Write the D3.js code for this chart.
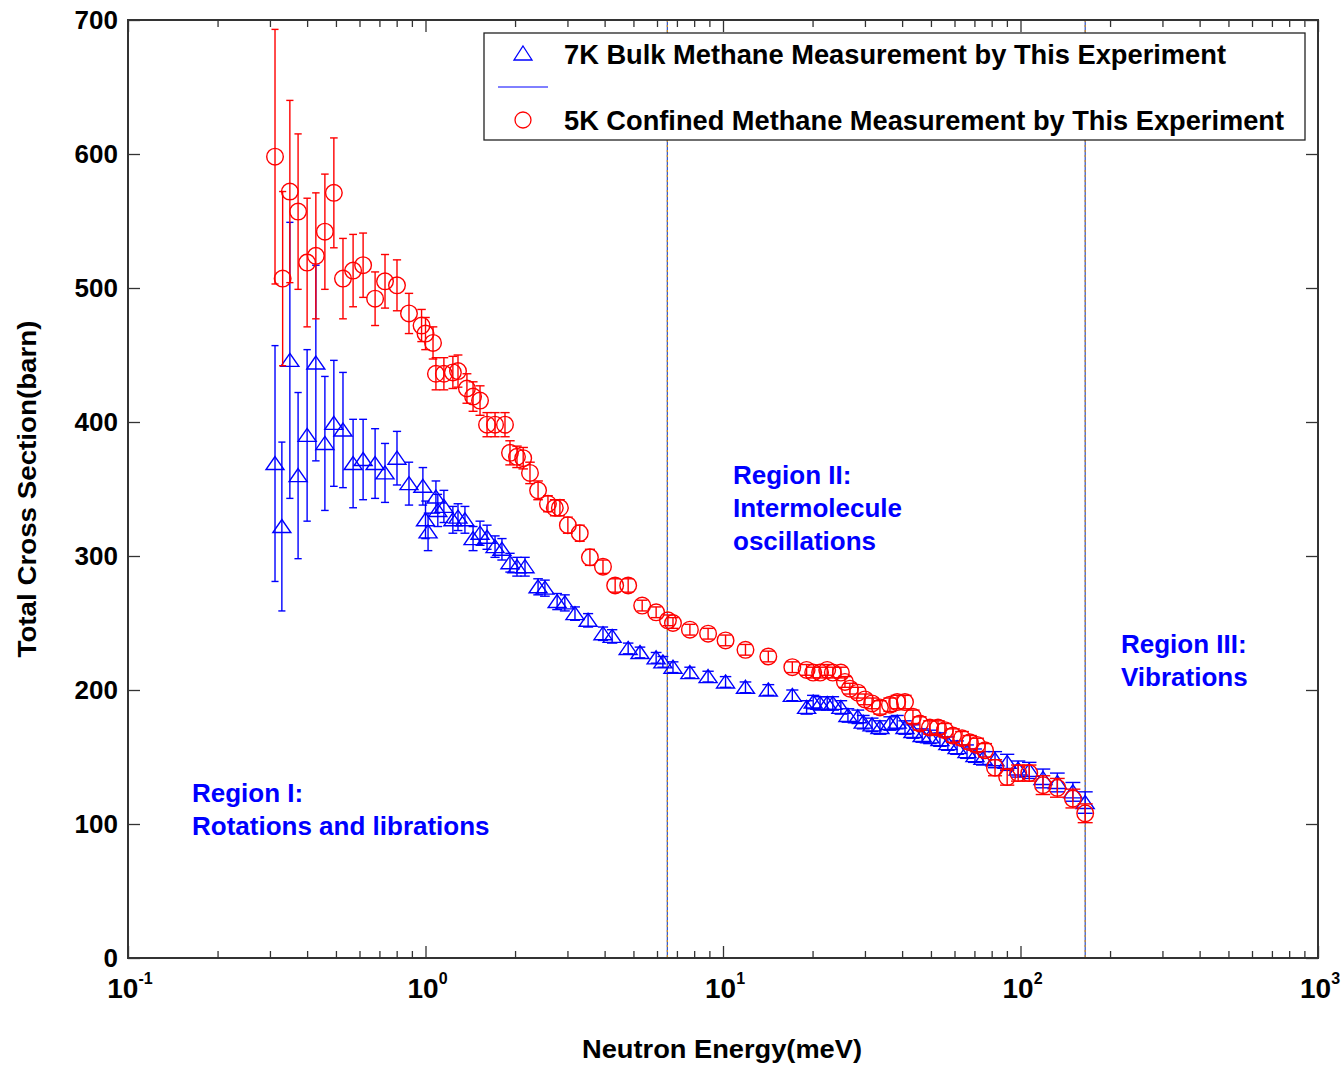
<!DOCTYPE html>
<html>
<head>
<meta charset="utf-8">
<script src="https://cdn.jsdelivr.net/npm/d3@7"></script>
<style>
  body { margin:0; background:#fff; }
  svg text { font-family: "Liberation Sans", Arial, sans-serif; font-weight: bold; }
</style>
</head>
<body>
<svg id="chart"></svg>
<script>
// 5K confined methane (red circles): energy meV, cross section barn, error
let redE = [0.312,0.331,0.350,0.373,0.400,0.428,0.459,0.492,0.528,0.571,0.617,0.677,0.731,0.802,0.880,
  0.97,1.00,1.06,1.084,1.153,1.236,1.286,1.378,1.445,1.525,1.61,1.713,1.85,1.923,2.03,2.13,2.245,2.39,
  2.58,2.72,2.83,3.01,3.30,3.57,3.95,4.34,4.80,5.35,5.96,6.53,6.79,7.74,8.91,10.2,11.9,14.2,17.1,19.1,
  20.1,21.2,22.4,23.4,24.9,25.7,26.7,28.4,30.0,31.7,33.7,36.4,38.5,40.9,43.5,45.9,49.6,52.8,55.7,59.3,
  63.6,67.6,71.4,76.0,82.1,90.2,98.2,107,119,133,150,165];
let redSigma = [598,507,572,557,519,524,542,571,507,513,517,492,505,502,481,
  472,466,459,436,436,437,438,425,419,416,398,398,398,377,374,373,362,349,
  339,336,336,323,317,299,292,278,278,263,258,252,250,245,242,237,230,225,217,215,
  213,213,215,213,213,206,201,198,193,190,187,189,191,191,180,175,172,172,170,166,
  164,161,159,155,142,135,138,138,129,127,119,108];
let redErr = [95,65,68,58,48,47,43,41,30,27,24,20,20,19,15,
  12,12,12,12,12,12,12,11,11,11,9,9,9,9,8,8,8,7,
  6,6,6,6,6,6,5,5,5,4,4,4,4,4,4,4,4,4,4,4,
  4,4,4,4,4,4,4,4,4,4,5,5,5,5,5,5,5,5,5,5,
  5,5,5,5,6,6,6,6,7,7,7,7];

// 7K bulk methane (blue triangles)
let blueE = [0.312,0.329,0.350,0.373,0.400,0.428,0.459,0.492,0.528,0.571,0.617,0.677,0.731,0.802,0.880,
  0.98,1.00,1.02,1.084,1.10,1.153,1.236,1.286,1.357,1.445,1.525,1.61,1.713,1.807,1.923,2.03,2.16,2.39,
  2.52,2.77,2.94,3.18,3.52,3.95,4.24,4.80,5.26,5.96,6.28,6.79,7.74,8.91,10.2,11.9,14.2,17.1,19.1,20.1,
  21.2,22.4,23.4,24.9,26.3,28.4,29.6,31.7,33.7,36.4,38.5,40.9,43.5,46.7,49.6,53.6,57.0,61.2,66.1,70.3,
  74.8,82.1,90.2,98.2,107,119,133,150,165];
let blueSigma = [369,322,446,360,390,444,384,399,394,369,372,369,362,373,354,
  352,327,318,344,334,337,327,329,327,313,317,314,307,305,295,292,292,277,
  276,266,265,257,252,242,240,231,228,224,221,217,213,210,206,202,200,196,187,191,
  190,190,190,187,181,180,176,174,172,175,176,172,169,166,165,163,160,157,154,151,
  149,148,146,141,140,134,131,124,116];
let blueErr = [88,63,103,62,64,73,50,47,43,33,30,26,22,20,16,
  14,14,14,12,12,12,10,10,10,9,9,9,8,8,7,7,7,6,
  6,6,6,5,5,5,5,4,4,4,4,4,4,4,4,4,4,4,5,5,
  5,5,5,5,5,5,5,5,5,5,5,5,5,5,5,5,5,5,5,5,
  5,6,6,6,6,7,7,7,8];

let xMajor = [0.1,1,10,100,1000];
let xExp = ["-1","0","1","2","3"];
let yTicks = [0,100,200,300,400,500,600,700];
let regionLines = [6.5,165];
let legendLabels = ["7K Bulk Methane Measurement by This Experiment",
                    "5K Confined Methane Measurement by This Experiment"];
let regionText = [
  {E:0.53, v:[ "Region I:", "Rotations and librations"], top:802},
  {E:7.8, v:["Region II:", "Intermolecule", "oscillations"], top:484},
  {E:167, v:["Region III:", "Vibrations"], top:653}
];

let W = 1344, H = 1066;
let plot = {left:128, right:1318, top:20, bottom:958};
let blue = "#0000ff", red = "#ff0000";

let svg = d3.select("#chart").attr("width", W).attr("height", H);

let x = d3.scaleLog().domain([0.1,1000]).range([plot.left, plot.right]);
let y = d3.scaleLinear().domain([0,700]).range([plot.bottom, plot.top]);

// minor ticks on log axis
let xMinor = [];
for (let d = 0.1; d < 1000; d *= 10) {
  for (let k = 2; k <= 9; k++) xMinor.push(+(d*k).toPrecision(3));
}

// region boundary lines (two dashed colours over each other)
regionLines.forEach(function(v){
  svg.append("line").attr("x1", x(v)).attr("x2", x(v))
     .attr("y1", plot.top).attr("y2", plot.bottom)
     .attr("stroke", "#3050c0").attr("stroke-width", 1.2)
  svg.append("line").attr("x1", x(v)).attr("x2", x(v))
     .attr("y1", plot.top).attr("y2", plot.bottom)
     .attr("stroke", "#d09020").attr("stroke-width", 1.2)
     .attr("stroke-dasharray", "2,3")
})

// tick marks: inside on all four sides
let ticks = svg.append("g").attr("stroke", "#333").attr("stroke-width", 1.3);
let bottomAxis = d3.axisBottom(x).tickValues(xMajor).tickSize(-12).tickFormat("");
let bottomMinor = d3.axisBottom(x).tickValues(xMinor).tickSize(-7).tickFormat("");
let topAxis = d3.axisTop(x).tickValues(xMajor).tickSize(-12).tickFormat("");
let topMinor = d3.axisTop(x).tickValues(xMinor).tickSize(-7).tickFormat("");
let leftAxis = d3.axisLeft(y).tickValues(yTicks).tickSize(-12).tickFormat("");
let rightAxis = d3.axisRight(y).tickValues(yTicks).tickSize(-12).tickFormat("");

[[bottomAxis, "translate(0,"+plot.bottom+")"], [bottomMinor, "translate(0,"+plot.bottom+")"],
 [topAxis, "translate(0,"+plot.top+")"], [topMinor, "translate(0,"+plot.top+")"],
 [leftAxis, "translate("+plot.left+",0)"], [rightAxis, "translate("+plot.right+",0)"]]
 .forEach(function(a){
   let g = svg.append("g").attr("transform", a[1]).call(a[0]);
   g.select(".domain").remove();
   g.selectAll("line").attr("stroke", "#333").attr("stroke-width", 1.3);
 })

// frame
svg.append("rect")
   .attr("x", plot.left).attr("y", plot.top)
   .attr("width", plot.right - plot.left).attr("height", plot.bottom - plot.top)
   .attr("fill", "none").attr("stroke", "#333").attr("stroke-width", 2)

// tick labels
svg.selectAll(".ylab").data(yTicks).enter().append("text")
   .attr("class", "ylab")
   .attr("x", 118).attr("y", d => y(d) + 9)
   .attr("text-anchor", "end").attr("font-size", 26)
   .text(d => d)

xMajor.forEach(function(v, i){
  let t = svg.append("text")
     .attr("x", x(v) + 2).attr("y", 998)
     .attr("text-anchor", "middle").attr("font-size", 28)
  t.append("tspan").text("10")
  t.append("tspan").attr("dy", -14).attr("font-size", 16).text(xExp[i])
})

// axis titles
svg.append("text")
   .attr("x", 722).attr("y", 1058)
   .attr("text-anchor", "middle").attr("font-size", 26)
   .attr("textLength", 280).attr("lengthAdjust", "spacingAndGlyphs")
   .text("Neutron Energy(meV)")

svg.append("text")
   .attr("transform", "translate(36,489) rotate(-90)")
   .attr("text-anchor", "middle").attr("font-size", 26)
   .attr("textLength", 337).attr("lengthAdjust", "spacingAndGlyphs")
   .text("Total Cross Section(barn)")

// error bar cap half width grows a little with energy
let capHalf = d3.scaleLinear().domain([x(0.3), x(165)]).range([3.5, 7.5]);

function drawSeries(E, S, Er, color, shape) {
  let g = svg.append("g");
  let pts = E.map((e, i) => ({e:e, s:S[i], err:Er[i]}));
  let bars = g.selectAll(".bar").data(pts).enter().append("g")
     .attr("stroke", color).attr("stroke-width", 1.4).attr("fill", "none")
  bars.append("line")
     .attr("x1", d => x(d.e)).attr("x2", d => x(d.e))
     .attr("y1", d => y(d.s + d.err)).attr("y2", d => y(d.s - d.err))
  bars.append("line")
     .attr("x1", d => x(d.e) - capHalf(x(d.e))).attr("x2", d => x(d.e) + capHalf(x(d.e)))
     .attr("y1", d => y(d.s + d.err)).attr("y2", d => y(d.s + d.err))
  bars.append("line")
     .attr("x1", d => x(d.e) - capHalf(x(d.e))).attr("x2", d => x(d.e) + capHalf(x(d.e)))
     .attr("y1", d => y(d.s - d.err)).attr("y2", d => y(d.s - d.err))
  if (shape == "circle") {
    bars.append("circle")
       .attr("cx", d => x(d.e)).attr("cy", d => y(d.s)).attr("r", 8.3)
  } else {
    bars.append("path")
       .attr("d", d => "M" + x(d.e) + "," + (y(d.s) - 7) +
                        "L" + (x(d.e) + 9) + "," + (y(d.s) + 6) +
                        "L" + (x(d.e) - 9) + "," + (y(d.s) + 6) + "Z")
  }
}

drawSeries(blueE, blueSigma, blueErr, blue, "triangle");
drawSeries(redE, redSigma, redErr, red, "circle");

// region annotations
regionText.forEach(function(r){
  r.v.forEach(function(line, j){
    svg.append("text")
       .attr("x", r.E == 0.53 ? 192 : r.E == 7.8 ? 733 : 1121)
       .attr("y", r.top + j*33)
       .attr("fill", blue).attr("font-size", 26)
       .text(line)
  })
})

// legend
let leg = {x:484, y:33, w:821, h:107};
svg.append("rect")
   .attr("x", leg.x).attr("y", leg.y).attr("width", leg.w).attr("height", leg.h)
   .attr("fill", "white").attr("stroke", "#222").attr("stroke-width", 1.3)

svg.append("path")
   .attr("d", "M523,46L532,60L514,60Z")
   .attr("fill", "none").attr("stroke", blue).attr("stroke-width", 1.3)
svg.append("line")
   .attr("x1", 498).attr("x2", 548).attr("y1", 87).attr("y2", 87)
   .attr("stroke", blue).attr("stroke-width", 1)
svg.append("circle")
   .attr("cx", 523).attr("cy", 120).attr("r", 8)
   .attr("fill", "none").attr("stroke", red).attr("stroke-width", 1.3)

svg.append("text")
   .attr("x", 564).attr("y", 64).attr("font-size", 27)
   .attr("textLength", 662).attr("lengthAdjust", "spacingAndGlyphs")
   .text(legendLabels[0])
svg.append("text")
   .attr("x", 564).attr("y", 130).attr("font-size", 27)
   .attr("textLength", 720).attr("lengthAdjust", "spacingAndGlyphs")
   .text(legendLabels[1])
</script>
</body>
</html>
